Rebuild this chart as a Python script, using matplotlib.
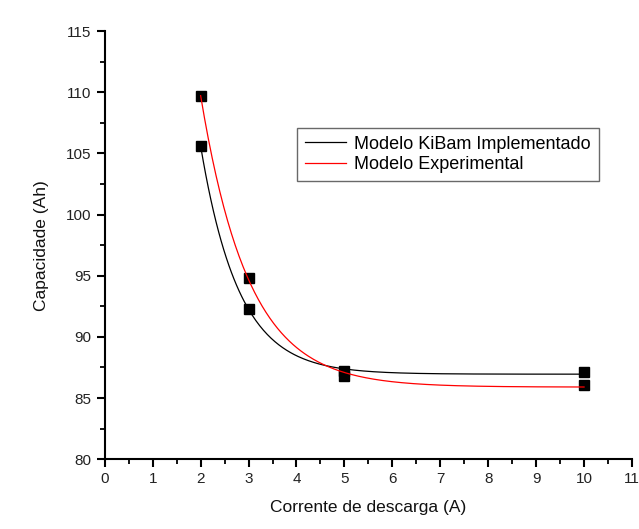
import matplotlib
matplotlib.use('Agg')
import matplotlib.pyplot as plt
import numpy as np
from matplotlib.ticker import MultipleLocator

plt.rcParams['font.family'] = ['Liberation Sans', 'DejaVu Sans']

corrente = [2, 3, 5, 10]
cap_kibam = [105.6, 92.3, 87.2, 87.1]
cap_exp = [109.7, 94.8, 86.8, 86.1]


def fit_exp(x, y):
    # y = y0 + A*exp(-x/t), grid over t, linear lstsq for y0, A
    x = np.asarray(x, float); y = np.asarray(y, float)
    best = None
    for t in np.linspace(0.2, 5, 2000):
        M = np.column_stack([np.ones_like(x), np.exp(-x / t)])
        c, *_ = np.linalg.lstsq(M, y, rcond=None)
        r = np.sum((M @ c - y) ** 2)
        if best is None or r < best[0]:
            best = (r, c[0], c[1], t)
    _, y0, A, t = best
    return lambda xx: y0 + A * np.exp(-xx / t)


xs = np.linspace(2, 10, 300)
f_k = fit_exp(corrente, cap_kibam)
f_e = fit_exp(corrente, cap_exp)

fig = plt.figure(figsize=(6.39, 5.29), dpi=100)
ax = fig.add_axes([0.164, 0.132, 0.825, 0.809])

ax.plot(xs, f_k(xs), color='black', lw=0.9, zorder=3, label='Modelo KiBam Implementado')
ax.plot(xs, f_e(xs), color='red', lw=0.9, zorder=3, label='Modelo Experimental')
ax.plot(corrente, cap_kibam, 's', color='black', ms=6.5, zorder=2)
ax.plot(corrente, cap_exp, 's', color='black', ms=6.5, zorder=2)

ax.set_xlim(0, 11)
ax.set_ylim(80, 115)
ax.xaxis.set_major_locator(MultipleLocator(1))
ax.xaxis.set_minor_locator(MultipleLocator(0.5))
ax.yaxis.set_major_locator(MultipleLocator(5))
ax.yaxis.set_minor_locator(MultipleLocator(2.5))
for s in ['top', 'right']:
    ax.spines[s].set_visible(False)
for s in ['left', 'bottom']:
    ax.spines[s].set_linewidth(1.5)
ax.tick_params(which='major', direction='out', length=6, width=1.5, labelsize=11, labelcolor='#222222')
ax.tick_params(which='minor', direction='out', length=3.5, width=1.3)

ax.set_xlabel('Corrente de descarga (A)', fontsize=12.5, color='#111111', labelpad=10)
ax.set_ylabel('Capacidade (Ah)', fontsize=12.5, color='#111111', labelpad=12)

leg = ax.legend(loc='upper left', bbox_to_anchor=(0.364, 0.775), fontsize=13, frameon=True,
                fancybox=False, edgecolor='#444444', handlelength=2.3, borderpad=0.45,
                labelspacing=0.2, handletextpad=0.45, borderaxespad=0)
leg.get_frame().set_linewidth(1.0)

fig.savefig('out.png', dpi=100)
